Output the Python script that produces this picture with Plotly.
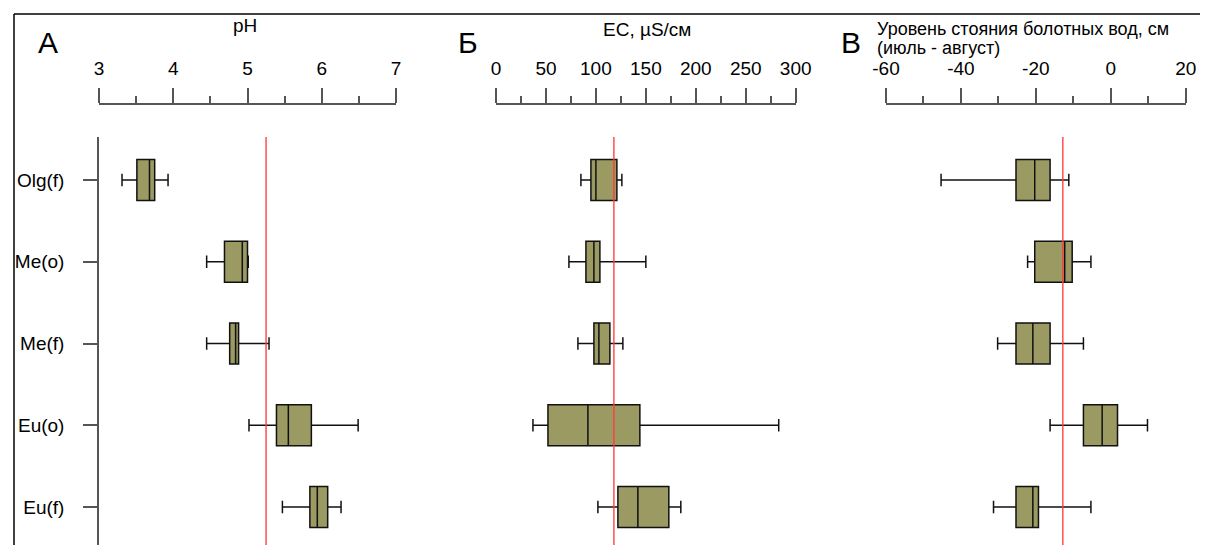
import plotly.graph_objects as go

# page body has an 8px margin: figure is drawn 8px in from the window corner
OFF = 8
WIN_W, WIN_H = 1208, 545
W, H = WIN_W - OFF, WIN_H - OFF

categories = ["Olg(f)", "Me(o)", "Me(f)", "Eu(o)", "Eu(f)"]

# Panel A: pH
ph_low = [3.31, 4.45, 4.45, 5.02, 5.47]
ph_q1 = [3.51, 4.69, 4.76, 5.39, 5.84]
ph_med = [3.68, 4.93, 4.84, 5.55, 5.94]
ph_q3 = [3.75, 5.00, 4.88, 5.86, 6.08]
ph_high = [3.93, 5.01, 5.29, 6.49, 6.26]
ph_ticks = [3, 4, 5, 6, 7]
ph_ticktext = ["3", "4", "5", "6", "7"]

# Panel B: EC
ec_low = [85, 73, 82, 37, 102]
ec_q1 = [95, 90, 98, 52, 122]
ec_med = [100, 98, 103, 92, 142]
ec_q3 = [121, 104, 114, 144, 173]
ec_high = [126, 150, 127, 283, 185]
ec_ticks = [0, 50, 100, 150, 200, 250, 300]
ec_ticktext = ["0", "50", "100", "150", "200", "250", "300"]

# Panel C: water level
wl_low = [-45.3, -22.2, -30.2, -16.2, -31.3]
wl_q1 = [-25.3, -20.3, -25.3, -7.3, -25.3]
wl_med = [-20.3, -12.3, -20.8, -2.3, -20.8]
wl_q3 = [-16.2, -10.3, -16.2, 1.8, -19.3]
wl_high = [-11.2, -5.3, -7.3, 9.8, -5.3]
wl_ticks = [-60, -40, -20, 0, 20]
wl_ticktext = ["-60", "-40", "-20", "0", "20"]

ref_lines = [5.25, 118, -12.8]

ranges = [[3, 7], [0, 300], [-60, 20]]
tickvals = [ph_ticks, ec_ticks, wl_ticks]
ticktexts = [ph_ticktext, ec_ticktext, wl_ticktext]
minor_dticks = [0.5, 25, 10]
domains_px = [(99, 396), (496, 795.7), (886, 1185.7)]

fill = "#9a9a62"


def fx(x):
    return (x - OFF) / W


def fy(y):
    return (H - (y - OFF)) / H


fig = go.Figure()
data = [
    (ph_low, ph_q1, ph_med, ph_q3, ph_high),
    (ec_low, ec_q1, ec_med, ec_q3, ec_high),
    (wl_low, wl_q1, wl_med, wl_q3, wl_high),
]
axn = ["", "2", "3"]
for i, (lo, q1, md, q3, hi) in enumerate(data):
    fig.add_trace(go.Box(
        y=categories, q1=q1, median=md, q3=q3, lowerfence=lo, upperfence=hi,
        orientation="h", boxpoints=False, width=0.5, whiskerwidth=0.3,
        fillcolor=fill, line=dict(color="#111111", width=1.5),
        xaxis="x" + axn[i], yaxis="y" + axn[i], showlegend=False,
    ))

top_px = 137
ydom_top = fy(top_px)
yrange = [4 + (WIN_H - 507) / 81.75, -(180 - top_px) / 81.75]
xpos = fy(104)

layout = dict(
    width=W, height=H, margin=dict(l=0, r=0, t=0, b=0, pad=0),
    paper_bgcolor="white", plot_bgcolor="white",
    font=dict(family="Liberation Sans, Arial, sans-serif", color="black"),
    showlegend=False,
)
for i in range(3):
    x0, x1 = domains_px[i]
    layout["xaxis" + axn[i]] = dict(
        domain=[fx(x0), fx(x1)], range=ranges[i], side="top",
        anchor="free", position=xpos, showgrid=False, zeroline=False,
        automargin=False,
        showline=True, linecolor="#555555", linewidth=1.5,
        ticks="outside", ticklen=15, tickwidth=1.5, tickcolor="#555555",
        tickmode="array", tickvals=tickvals[i], ticktext=ticktexts[i],
        tickfont=dict(size=19, color="black"), ticklabelstandoff=6,
        minor=dict(ticks="outside", ticklen=7, tickwidth=1.5,
                   tickcolor="#555555", dtick=minor_dticks[i],
                   tick0=ranges[i][0], showgrid=False),
    )
    ya = dict(
        domain=[0, ydom_top], range=yrange, anchor="x" + axn[i],
        type="category", categoryarray=categories, categoryorder="array",
        showgrid=False, zeroline=False, automargin=False,
    )
    if i == 0:
        ya.update(showline=True, linecolor="#555555", linewidth=1.5,
                  ticks="outside", ticklen=14, tickwidth=1.5, tickcolor="#555555",
                  tickfont=dict(size=19, color="black"), ticklabelstandoff=15)
    else:
        ya.update(showline=False, showticklabels=False, ticks="")
    layout["yaxis" + axn[i]] = ya

fig.update_layout(**layout)

shapes = []
for i, v in enumerate(ref_lines):
    shapes.append(dict(type="line", xref="x" + axn[i], yref="paper",
                       x0=v, x1=v, y0=0, y1=ydom_top,
                       line=dict(color="rgba(255,60,60,0.9)", width=1.5)))
# frame
shapes.append(dict(type="line", xref="paper", yref="paper",
                   x0=fx(14), x1=1.0, y0=fy(14), y1=fy(14),
                   line=dict(color="black", width=1.5)))
shapes.append(dict(type="line", xref="paper", yref="paper",
                   x0=fx(14), x1=fx(14), y0=0, y1=fy(14),
                   line=dict(color="black", width=1.5)))
fig.update_layout(shapes=shapes)


def ann(text, x, y, size, xanchor="center"):
    return dict(text=text, xref="paper", yref="paper", x=fx(x), y=fy(y),
                xanchor=xanchor, yanchor="middle", showarrow=False,
                font=dict(size=size, color="black"))


annotations = [
    ann("A", 36, 43, 30, "left"),
    ann("Б", 456, 43, 30, "left"),
    ann("В", 839, 43, 30, "left"),
    ann("pH", 245, 26, 19),
    ann("EC, µS/см", 647, 29, 19),
    ann("Уровень стояния болотных вод, см", 875, 29, 18, "left"),
    ann("(июль - август)", 875, 48, 18, "left"),
]
fig.update_layout(annotations=annotations)

fig.write_html("out.html")
